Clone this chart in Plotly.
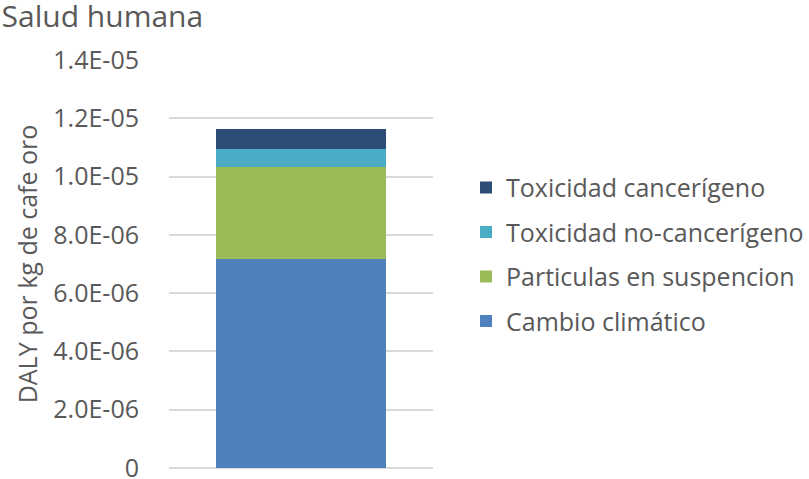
import plotly.graph_objects as go

categories = ["Café oro"]
series_names = ["Cambio climático", "Particulas en suspencion",
                "Toxicidad no-cancerígeno", "Toxicidad cancerígeno"]
cambio = [7.17e-06]
particulas = [3.16e-06]
tox_no_canc = [0.62e-06]
tox_canc = [0.68e-06]
colors = ["#4F81BD", "#9BBB59", "#4BACC6", "#2C4D75"]
legend_ranks = [4, 3, 2, 1]
tick_vals = [0, 2e-06, 4e-06, 6e-06, 8e-06, 1e-05, 1.2e-05, 1.4e-05]
tick_text = ["0", "2.0E-06", "4.0E-06", "6.0E-06", "8.0E-06", "1.0E-05", "1.2E-05", "1.4E-05"]

FONT = "Open Sans"
fig = go.Figure()
for name, vals, col, rk in zip(series_names, [cambio, particulas, tox_no_canc, tox_canc], colors, legend_ranks):
    fig.add_trace(go.Bar(x=categories, y=vals, name=name, marker_color=col,
                         marker_line_width=0, legendgroup=name, legendrank=rk))

fig.update_layout(
    width=809, height=479,
    barmode="stack", bargap=0.356,
    paper_bgcolor="white", plot_bgcolor="white",
    margin=dict(l=169, r=376, t=60, b=11, autoexpand=False),
    font=dict(family=FONT, color="#595959", size=24),
    title=dict(text="Salud humana", x=0.002, xanchor="left", y=0.988, yanchor="top",
               font=dict(size=30, color="#595959", family=FONT)),
    xaxis=dict(showticklabels=False, showgrid=False, zeroline=False, showline=False),
    yaxis=dict(range=[0, 1.4e-05], tickvals=tick_vals, ticktext=tick_text,
               showgrid=True, gridcolor="#D9D9D9", gridwidth=1.5,
               zeroline=True, zerolinecolor="#D9D9D9", zerolinewidth=1.5,
               ticks="", ticklabelstandoff=29, ticklabeloverflow="allow",
               automargin=False,
               tickfont=dict(size=25, color="#595959"),
               title=dict(text="DALY por kg de cafe oro", standoff=8,
                          font=dict(size=25, color="#595959"))),
    legend=dict(x=1.125, xanchor="left", y=0.524, yanchor="middle",
                traceorder="grouped", tracegroupgap=9, bgcolor="rgba(0,0,0,0)",
                font=dict(size=25, color="#595959"), itemwidth=30),
    showlegend=True,
)

fig.write_html("out.html", config={"displayModeBar": False},
               post_script="document.body.style.margin='0';")
